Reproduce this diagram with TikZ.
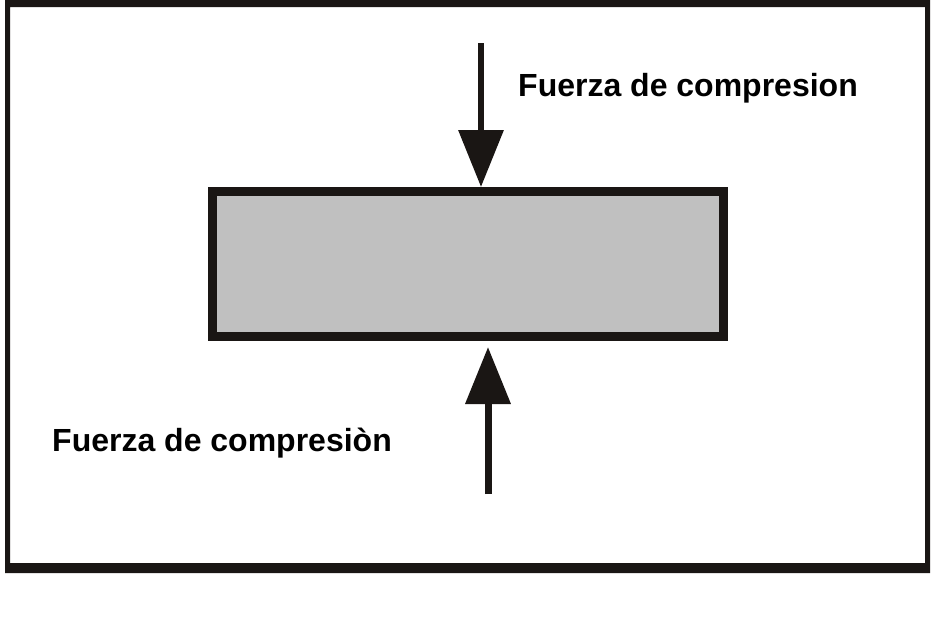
\documentclass[tikz,border=0pt]{standalone}
\usepackage{fontspec}
\setmainfont{Liberation Sans}
\usetikzlibrary{arrows.meta}
\definecolor{ink}{RGB}{26,22,20}
\definecolor{boxgray}{RGB}{192,192,192}
\tikzset{
  forcearrow/.style={draw=ink, line width=7pt, -{Triangle[length=57pt,width=44pt]}, color=ink},
  blockbox/.style={draw=ink, fill=boxgray, line width=9pt, minimum width=511pt, minimum height=145pt, inner sep=0pt},
  forcelabel/.style={font=\fontsize{32}{38}\selectfont\bfseries, text=black, inner sep=0pt}
}
\begin{document}
\begin{tikzpicture}[x=1pt,y=-1pt]
\useasboundingbox (0,0) rectangle (934,630);
\fill[white] (0,0) rectangle (934,630);
% outer frame
\fill[ink, even odd rule] (5,0) rectangle (930,573) (10,7) rectangle (925,563);
% block
\node[blockbox] (box) at (468,264) {};
% top force
\coordinate (topstart) at (481,43);
\draw[forcearrow, line width=6.5pt] (topstart) -- (box.north -| topstart);
% bottom force
\coordinate (botstart) at (488,494);
\draw[forcearrow] (botstart) -- ([yshift=-6pt]box.south -| botstart);
% labels
\node[forcelabel, anchor=base west] (ltop) at (518,96) {Fuerza de compresion};
\node[forcelabel, anchor=base west] (lbot) at (52,451) {Fuerza de compresiòn};
\end{tikzpicture}
\end{document}
